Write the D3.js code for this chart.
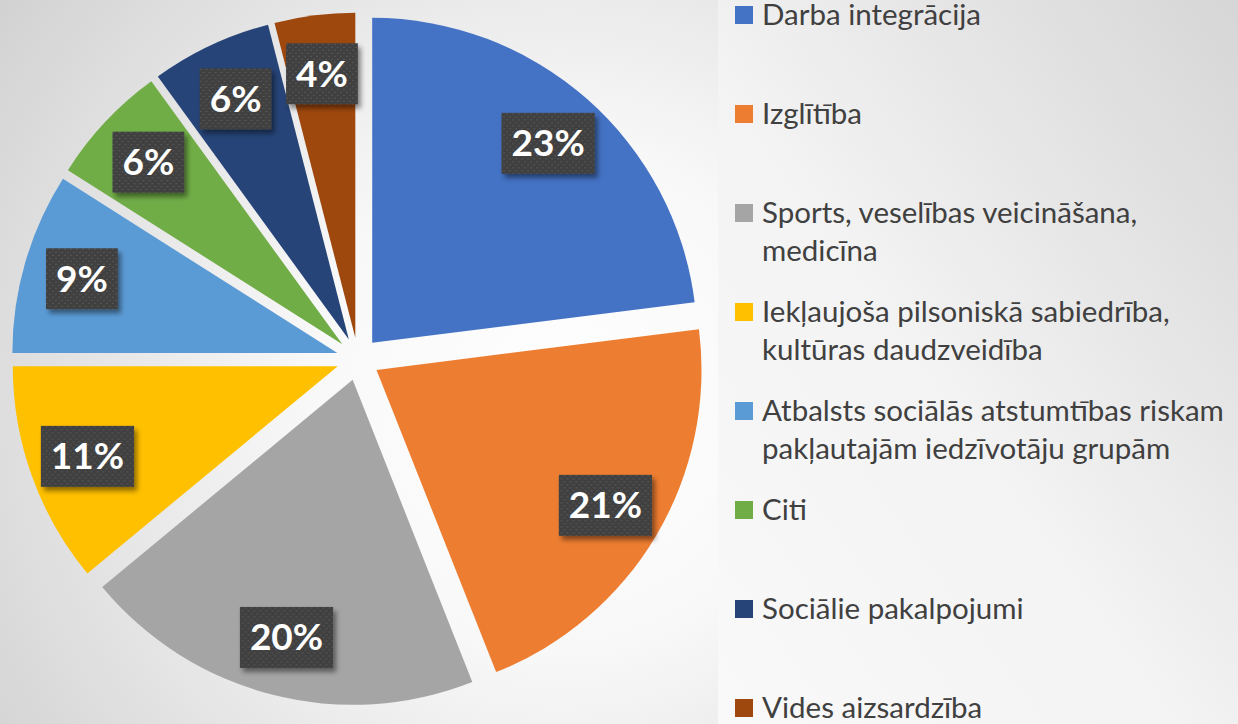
<!DOCTYPE html>
<html>
<head>
<meta charset="utf-8">
<script src="https://cdn.jsdelivr.net/npm/d3@7"></script>
<style>
  body { margin: 0; padding: 0; overflow: hidden; }
  svg { display: block; }
</style>
</head>
<body>
<div id="chart"></div>
<script>
// data
var categories = ["Darba integrācija", "Izglītība", "Sports, veselības veicināšana, medicīna",
  "Iekļaujoša pilsoniskā sabiedrība, kultūras daudzveidība",
  "Atbalsts sociālās atstumtības riskam pakļautajām iedzīvotāju grupām",
  "Citi", "Sociālie pakalpojumi", "Vides aizsardzība"];
var legendLines = [["Darba integrācija"], ["Izglītība"], ["Sports, veselības veicināšana,", "medicīna"],
  ["Iekļaujoša pilsoniskā sabiedrība,", "kultūras daudzveidība"],
  ["Atbalsts sociālās atstumtības riskam", "pakļautajām iedzīvotāju grupām"],
  ["Citi"], ["Sociālie pakalpojumi"], ["Vides aizsardzība"]];
var values = [23, 21, 20, 11, 9, 6, 6, 4];
var colors = ["#4472C4", "#ED7D31", "#A5A5A5", "#FFC000", "#5B9BD5", "#70AD47", "#264478", "#9E480E"];

function init() {
  var w = 1238, h = 724;
  var cx = 358, cy = 359, R = 325;
  var explode = 21.5;
  var labelR = 266;

  var svg = d3.select("#chart").append("svg")
    .attr("width", w).attr("height", h);

  var defs = svg.append("defs");

  var bg = defs.append("radialGradient").attr("id", "bg")
    .attr("gradientUnits", "userSpaceOnUse")
    .attr("cx", 560).attr("cy", 400).attr("r", 720);
  bg.append("stop").attr("offset", "0%").attr("stop-color", "#ffffff");
  bg.append("stop").attr("offset", "35%").attr("stop-color", "#f8f8f8");
  bg.append("stop").attr("offset", "100%").attr("stop-color", "#cfcfcf");

  var panel = defs.append("linearGradient").attr("id", "panel")
    .attr("x1", "0%").attr("y1", "100%").attr("x2", "100%").attr("y2", "0%");
  panel.append("stop").attr("offset", "0%").attr("stop-color", "#f9f9f9");
  panel.append("stop").attr("offset", "45%").attr("stop-color", "#f3f3f3");
  panel.append("stop").attr("offset", "100%").attr("stop-color", "#d6d6d6");

  var pat = defs.append("pattern").attr("id", "dots")
    .attr("patternUnits", "userSpaceOnUse").attr("width", 6).attr("height", 6);
  pat.append("rect").attr("width", 6).attr("height", 6).attr("fill", "#404040");
  pat.append("rect").attr("x", 0).attr("y", 0).attr("width", 2).attr("height", 1).attr("fill", "#575757");
  pat.append("rect").attr("x", 3).attr("y", 3).attr("width", 2).attr("height", 1).attr("fill", "#575757");

  var shadow = defs.append("filter").attr("id", "shadow")
    .attr("x", "-20%").attr("y", "-20%").attr("width", "150%").attr("height", "150%");
  shadow.append("feDropShadow").attr("dx", 3).attr("dy", 4).attr("stdDeviation", 2.5)
    .attr("flood-color", "#000").attr("flood-opacity", 0.45);

  svg.append("rect").attr("width", w).attr("height", h).attr("fill", "url(#bg)");
  svg.append("rect").attr("x", 718).attr("y", 0).attr("width", w - 718).attr("height", h)
    .attr("fill", "url(#panel)");

  var pie = d3.pie().sort(null).value(function(d){ return d; });
  var arcs = pie(values);
  var arc = d3.arc().innerRadius(0).outerRadius(R);
  var labelArc = d3.arc().innerRadius(labelR).outerRadius(labelR);

  function offset(d) {
    var a = (d.startAngle + d.endAngle) / 2;
    return [Math.sin(a) * explode, -Math.cos(a) * explode];
  }

  var g = svg.append("g").attr("transform", "translate(" + cx + "," + cy + ")");

  var slices = g.selectAll("g.slice")
    .data(arcs)
    .enter()
    .append("g")
    .attr("class", "slice")
    .attr("transform", function(d){
      var o = offset(d);
      return "translate(" + o[0] + "," + o[1] + ")";
    });

  slices.append("path")
    .attr("d", arc)
    .attr("fill", function(d, i){ return colors[i]; });

  // labels
  var labels = slices.append("g")
    .attr("transform", function(d){
      var c = labelArc.centroid(d);
      return "translate(" + c[0] + "," + c[1] + ")";
    });

  labels.append("text")
    .attr("text-anchor", "middle")
    .attr("y", 13)
    .attr("fill", "#ffffff")
    .style("font-family", "Lato, 'Open Sans', sans-serif")
    .style("font-weight", "bold")
    .style("font-size", "37px")
    .text(function(d){ return d.data + "%"; });

  labels.each(function(){
    var lg = d3.select(this);
    var bb = lg.select("text").node().getBBox();
    lg.insert("rect", "text")
      .attr("x", bb.x - 10)
      .attr("y", -30.5)
      .attr("width", bb.width + 20)
      .attr("height", 61)
      .attr("fill", "url(#dots)")
      .attr("filter", "url(#shadow)");
  });

  // legend
  var yScale = d3.scaleLinear().domain([0, categories.length - 1]).range([25, 718]);

  var legend = svg.append("g");
  var items = legend.selectAll("g")
    .data(legendLines)
    .enter()
    .append("g")
    .attr("transform", function(d, i){ return "translate(735," + yScale(i) + ")"; });

  items.append("rect")
    .attr("x", 0).attr("y", -19)
    .attr("width", 18).attr("height", 18)
    .attr("fill", function(d, i){ return colors[i]; });

  items.append("text")
    .attr("fill", "#404040")
    .style("font-family", "Lato, 'Open Sans', sans-serif")
    .style("font-size", "29.5px")
    .selectAll("tspan")
    .data(function(d){ return d; })
    .enter()
    .append("tspan")
    .attr("x", 27)
    .attr("y", function(d, j){ return j * 38; })
    .text(function(d){ return d; });
}

window.onload = init;
</script>
</body>
</html>
